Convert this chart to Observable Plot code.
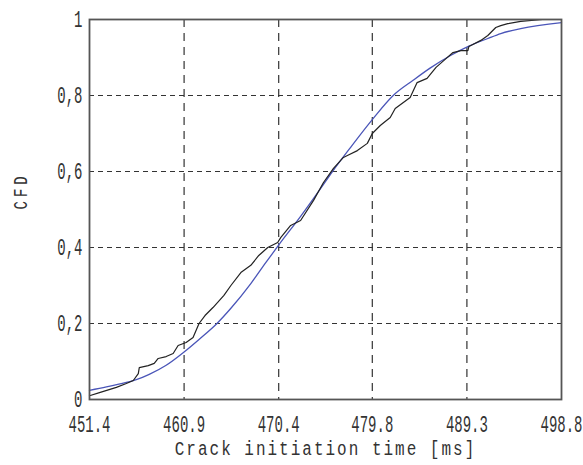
<!DOCTYPE html>
<html>
<head>
<meta charset="utf-8">
<script src="https://cdn.jsdelivr.net/npm/d3@7"></script>
<script src="https://cdn.jsdelivr.net/npm/@observablehq/plot@0.6"></script>
<style>
  html, body { margin: 0; padding: 0; background: #fff; }
  #chart svg { display: block; }
</style>
</head>
<body>
<div id="chart"></div>
<script>
// Tick values and labels
const xTicks = [451.4, 460.9, 470.4, 479.8, 489.3, 498.8];
const xTickLabels = ["451.4", "460.9", "470.4", "479.8", "489.3", "498.8"];
const yTicks = [0, 0.2, 0.4, 0.6, 0.8, 1];
const yTickLabels = ["0", "0,2", "0,4", "0,6", "0,8", "1"];

// Empirical CFD (black)
const empTime = [451.4, 452.4, 454.1, 455.1, 455.8, 456.3, 456.4, 457.3, 457.9, 458.3, 459.1, 459.8, 460.3, 461.1, 461.8, 462.4, 463.0, 463.8, 464.9, 465.6, 466.6, 467.6, 468.4, 469.3, 470.3, 470.6, 471.6, 472.6, 473.9, 474.9, 475.9, 476.9, 477.3, 478.3, 479.3, 479.8, 480.6, 481.6, 482.1, 483.6, 484.3, 485.3, 486.2, 487.2, 487.9, 488.7, 489.4, 489.5, 490.7, 491.4, 492.2, 492.7, 493.4, 494.7, 496.9];
const empCfd  = [0.01, 0.018, 0.032, 0.042, 0.05, 0.068, 0.084, 0.089, 0.095, 0.108, 0.113, 0.121, 0.142, 0.15, 0.163, 0.2, 0.221, 0.242, 0.274, 0.3, 0.334, 0.353, 0.379, 0.4, 0.413, 0.426, 0.458, 0.471, 0.524, 0.571, 0.608, 0.637, 0.642, 0.655, 0.674, 0.7, 0.721, 0.742, 0.766, 0.795, 0.834, 0.845, 0.874, 0.897, 0.913, 0.918, 0.918, 0.929, 0.945, 0.958, 0.979, 0.984, 0.989, 0.995, 1.0];

// Fitted CFD (blue)
const fitTime = [451.4, 453.1, 455.1, 456.1, 457.4, 459.1, 460.9, 462.4, 464.2, 465.6, 467.6, 469.1, 470.5, 472.6, 474.6, 475.8, 477.6, 479.9, 481.9, 483.9, 485.6, 487.7, 489.5, 491.4, 492.7, 494.7, 498.8];
const fitCfd  = [0.024, 0.033, 0.045, 0.052, 0.066, 0.09, 0.125, 0.158, 0.2, 0.24, 0.305, 0.36, 0.41, 0.482, 0.555, 0.6, 0.663, 0.74, 0.8, 0.84, 0.872, 0.906, 0.93, 0.95, 0.963, 0.976, 0.992];

const emp = empTime.map((t, i) => ({t, p: empCfd[i]}));
const fit = fitTime.map((t, i) => ({t, p: fitCfd[i]}));

const mono = "'Liberation Mono', 'DejaVu Sans Mono', monospace";

const chart = Plot.plot({
  width: 583,
  height: 465,
  marginLeft: 89,
  marginRight: 22,
  marginTop: 19,
  marginBottom: 66,
  x: {domain: [451.4, 498.8], axis: null},
  y: {domain: [0, 1], axis: null},
  marks: [
    Plot.ruleX(xTicks.slice(1, -1), {stroke: "#333", strokeWidth: 1.2, strokeDasharray: "8,6"}),
    Plot.ruleY(yTicks.slice(1, -1), {stroke: "#333", strokeWidth: 1.2, strokeDasharray: "5,4"}),
    Plot.line(fit, {x: "t", y: "p", stroke: "#4a55b8", strokeWidth: 1.3, curve: "monotone-x"}),
    Plot.line(emp, {x: "t", y: "p", stroke: "#222", strokeWidth: 1.2}),
    Plot.frame({stroke: "#555", strokeWidth: 1.8}),
    Plot.text(xTicks, {x: d => d, y: 0, dy: 25, text: (d, i) => xTickLabels[i], fontSize: 14, fontFamily: mono, fill: "#333"}),
    Plot.text(yTicks, {x: 451.4, y: d => d, dx: -7, text: (d, i) => yTickLabels[i], textAnchor: "end", fontSize: 14, fontFamily: mono, fill: "#333"}),
    Plot.text(["Crack initiation time [ms]"], {frameAnchor: "bottom", dy: 55, text: d => d, fontSize: 16, fontFamily: mono, fill: "#333"}),
    Plot.text(["CFD"], {frameAnchor: "left", dx: -69, rotate: -90, text: d => d, fontSize: 14, fontFamily: mono, fill: "#333"})
  ]
});

document.getElementById("chart").appendChild(chart);

// Stretch the glyphs vertically to imitate the tall, narrow pixel font
const groups = chart.querySelectorAll('g[aria-label="text"]');
const stretch = [1.7, 1.7, 1.3, 1.5];
const spacing = [0, 0, 2, 4];
groups.forEach((g, k) => {
  if (spacing[k]) g.setAttribute("letter-spacing", spacing[k]);
  g.querySelectorAll("text").forEach(t => {
    const tr = t.getAttribute("transform");
    if (tr) {
      t.setAttribute("transform", tr + ` scale(1,${stretch[k]})`);
    } else {
      const x = t.getAttribute("x") || 0, y = t.getAttribute("y") || 0;
      t.removeAttribute("x"); t.removeAttribute("y");
      t.setAttribute("transform", `translate(${x},${y}) scale(1,${stretch[k]})`);
    }
  });
});
</script>
</body>
</html>
